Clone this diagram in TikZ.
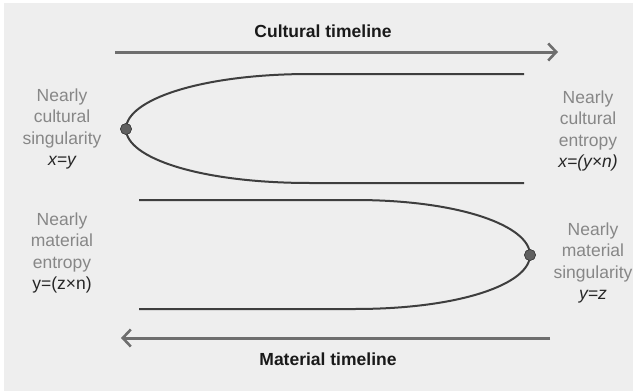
\documentclass[tikz,border=0pt]{standalone}
\usepackage{fontspec}
\setmainfont{Liberation Sans}
\usepackage{tikz}
\usetikzlibrary{arrows.meta}
\definecolor{bggray}{HTML}{EEEEEE}
\definecolor{labelgray}{HTML}{878787}
\definecolor{formdark}{HTML}{262626}
\definecolor{arrowgray}{HTML}{6E6E6E}
\definecolor{curvegray}{HTML}{3E3E3E}
\definecolor{dotgray}{HTML}{606060}

\begin{document}
\begin{tikzpicture}[x=1pt,y=-1pt,
      lbl/.style={
        font=\fontsize{17.5}{21.5}\selectfont, text=labelgray,
        align=center, inner sep=0pt
      },
      ttl/.style={font=\fontsize{17.5}{21}\selectfont\bfseries, text=black!90},
      timeline/.style={
        draw=arrowgray, line width=3pt,
        -{Straight Barb[length=8pt,width=17pt,line width=2.6pt]}
      },
      branch/.style={draw=curvegray, line width=2pt},
      dot/.style={
        circle, fill=dotgray, draw=curvegray, line width=0.6pt,
        inner sep=0pt, minimum width=11pt
      }
    ]
      \useasboundingbox (0,0) rectangle (633,391);
      \fill[bggray] (4,3) rectangle (633,391);

      % titles
      \node[ttl] (ctitle) at (323,31){Cultural timeline};
      \node[ttl] (mtitle) at (328,359){Material timeline};

      % timeline arrows
      \coordinate (cstart) at (115,52);
      \coordinate (cend) at (558,52);
      \coordinate (mstart) at (550,338);
      \coordinate (mend) at (121,338);
      \draw[timeline] (cstart)--(cend);
      \draw[timeline] (mstart)--(mend);

      % cultural branch
      \node[dot] (cdot) at (126,129){};
      \coordinate (ctop) at (524,74);
      \coordinate (cbot) at (524,183);
      \draw[branch] (ctop) -- (310,74)
        .. controls (200,74) and (126,100) .. (cdot.center)
        .. controls (126,158) and (200,183) .. (310,183) -- (cbot);
      \node[dot] at (cdot.center){};

      % material branch
      \node[dot] (mdot) at (530,255){};
      \coordinate (mtop) at (139,200);
      \coordinate (mbot) at (139,309);
      \draw[branch] (mtop) -- (355,200)
        .. controls (460,200) and (530,226) .. (mdot.center)
        .. controls (530,284) and (460,309) .. (355,309) -- (mbot);
      \node[dot] at (mdot.center){};

      % labels
      \foreach \nm/\pos/\kind/\formula in {
          csing/{62,129}/cultural\\singularity/{\itshape x=y},
          cent/{588,131}/cultural\\entropy/{\itshape x=(y×n)},
          ment/{62,253}/material\\entropy/{y=(z×n)},
          msing/{593,263}/material\\singularity/{\itshape y=z}} {
        \node[lbl] (\nm) at (\pos){Nearly\\\kind\\{\color{formdark}\formula}};
      }
    \end{tikzpicture}
\end{document}
